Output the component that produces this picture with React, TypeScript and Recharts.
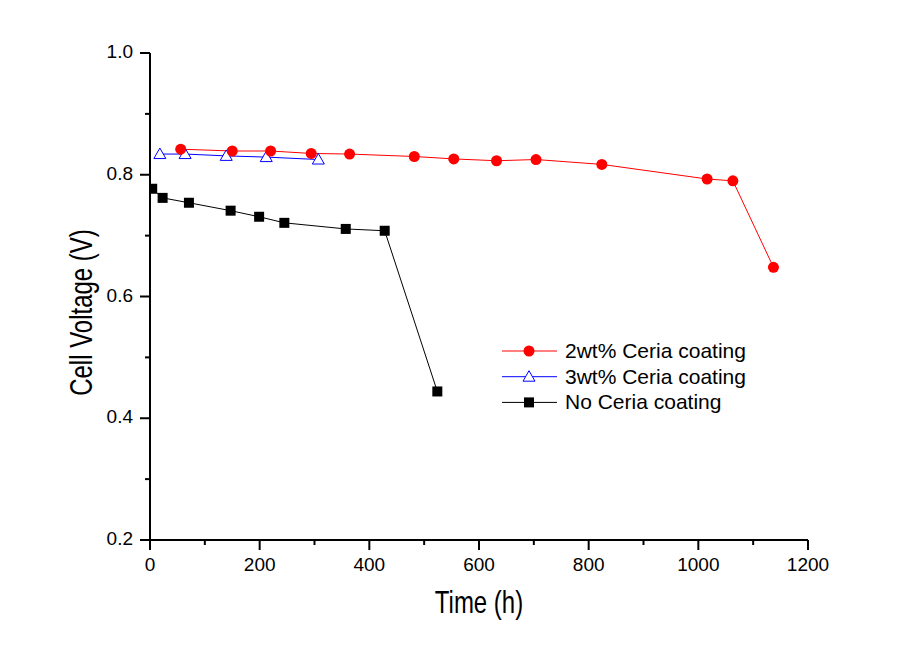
import React from "react";
import { Legend, Line, LineChart, XAxis, YAxis } from "recharts";

const timeTicks = [0, 100, 200, 300, 400, 500, 600, 700, 800, 900, 1000, 1100, 1200];
const voltageTicks = [0.2, 0.3, 0.4, 0.5, 0.6, 0.7, 0.8, 0.9, 1.0];

const ceria2Time = [56, 150, 220, 294, 364, 482, 554, 632, 704, 824, 1016, 1063, 1137];
const ceria2Voltage = [0.842, 0.839, 0.839, 0.835, 0.834, 0.83, 0.826, 0.823, 0.825, 0.817, 0.793, 0.79, 0.648];

const ceria3Time = [18, 64, 139, 212, 307];
const ceria3Voltage = [0.834, 0.834, 0.831, 0.829, 0.825];

const noCeriaTime = [4, 23, 71, 147, 199, 245, 357, 428, 524];
const noCeriaVoltage = [0.777, 0.762, 0.754, 0.741, 0.731, 0.721, 0.711, 0.708, 0.444];

const seriesNames = ["2wt% Ceria coating", "3wt% Ceria coating", "No Ceria coating"];

const FONT = '"Liberation Sans", Arial, sans-serif';

const toPoints = (times: number[], volts: number[]) =>
  times.map((t, i) => ({ t, v: volts[i] }));

const ceria2Data = toPoints(ceria2Time, ceria2Voltage);
const ceria3Data = toPoints(ceria3Time, ceria3Voltage);
const noCeriaData = toPoints(noCeriaTime, noCeriaVoltage);

type MarkerKind = "circle" | "triangle" | "square";

function Marker({ kind, cx, cy }: { kind: MarkerKind; cx: number; cy: number }) {
  if (kind === "circle") {
    return <circle cx={cx} cy={cy} r={5.5} fill="#ff0000" stroke="none" />;
  }
  if (kind === "triangle") {
    return (
      <polygon
        points={`${cx},${cy - 6} ${cx - 6},${cy + 4.5} ${cx + 6},${cy + 4.5}`}
        fill="#fff"
        stroke="#0000ff"
        strokeWidth={1}
      />
    );
  }
  return <rect x={cx - 5} y={cy - 5} width={10} height={10} fill="#000" />;
}

const makeDot = (kind: MarkerKind) => (props: any) => {
  const { cx, cy, index } = props;
  if (cx == null || cy == null) return <g key={`e-${index}`} />;
  return (
    <g key={`${kind}-${index}`}>
      <Marker kind={kind} cx={cx} cy={cy} />
    </g>
  );
};

function XTick(props: any) {
  const { x, y, payload } = props;
  const major = payload.value % 200 === 0;
  return (
    <g>
      <line x1={x} y1={y} x2={x} y2={y + (major ? 10 : 5)} stroke="#000" strokeWidth={2} />
      {major && (
        <text x={x} y={y + 31} textAnchor="middle" fontFamily={FONT} fontSize={19} fill="#000">
          {payload.value}
        </text>
      )}
    </g>
  );
}

function YTick(props: any) {
  const { x, y, payload } = props;
  const major = Math.round(payload.value * 10) % 2 === 0;
  return (
    <g>
      <line x1={x} y1={y} x2={x - (major ? 10 : 5)} y2={y} stroke="#000" strokeWidth={2} />
      {major && (
        <text x={x - 17} y={y + 5} textAnchor="end" fontFamily={FONT} fontSize={19} fill="#000">
          {payload.value.toFixed(1)}
        </text>
      )}
    </g>
  );
}

function XTitle(props: any) {
  const vb = props.viewBox;
  return (
    <text
      transform={`translate(${vb.x + vb.width / 2}, ${vb.y + 73}) scale(1, 1.33)`}
      textAnchor="middle"
      fontFamily={FONT}
      fontSize={24}
      fill="#000"
    >
      Time (h)
    </text>
  );
}

function YTitle(props: any) {
  const vb = props.viewBox;
  return (
    <text
      transform={`translate(${vb.x + 92}, ${vb.y + vb.height / 2 + 16}) rotate(-90) scale(1, 1.33)`}
      textAnchor="middle"
      fontFamily={FONT}
      fontSize={24}
      fill="#000"
    >
      Cell Voltage (V)
    </text>
  );
}

const legendKinds: MarkerKind[] = ["circle", "triangle", "square"];
const legendColors = ["#ff0000", "#0000ff", "#000000"];

function LegendBox() {
  return (
    <svg width={260} height={80} style={{ display: "block" }}>
      {seriesNames.map((name, i) => {
        const cy = 14 + i * 25.7;
        return (
          <g key={name}>
            <line x1={2} y1={cy} x2={57} y2={cy} stroke={legendColors[i]} strokeWidth={1} />
            <Marker kind={legendKinds[i]} cx={29} cy={cy} />
            <text x={65} y={cy + 7} fontFamily={FONT} fontSize={21} fill="#000">
              {name}
            </text>
          </g>
        );
      })}
    </svg>
  );
}

export default function App() {
  return (
    <div style={{ position: "absolute", left: 0, top: 0, width: 912, height: 670, background: "#fff" }}>
      <LineChart width={912} height={670} margin={{ top: 53, right: 104, bottom: 0, left: 0 }}>
        <XAxis
          type="number"
          dataKey="t"
          domain={[0, 1200]}
          ticks={timeTicks}
          interval={0}
          height={130}
          tickSize={0}
          tickMargin={0}
          tickLine={false}
          tick={<XTick />}
          axisLine={{ stroke: "#000", strokeWidth: 2 }}
          allowDataOverflow
          label={{ content: <XTitle /> } as any}
        />
        <XAxis
          xAxisId="top"
          orientation="top"
          type="number"
          domain={[0, 1200]}
          height={0}
          tick={false}
          tickLine={false}
          axisLine={{ stroke: "#000", strokeWidth: 2 }}
        />
        <YAxis
          type="number"
          dataKey="v"
          domain={[0.2, 1.0]}
          ticks={voltageTicks}
          interval={0}
          width={150}
          tickSize={0}
          tickMargin={0}
          tickLine={false}
          tick={<YTick />}
          axisLine={{ stroke: "#000", strokeWidth: 2 }}
          allowDataOverflow
          label={{ content: <YTitle /> } as any}
        />
        <YAxis
          yAxisId="right"
          orientation="right"
          type="number"
          domain={[0.2, 1.0]}
          width={0}
          tick={false}
          tickLine={false}
          axisLine={{ stroke: "#000", strokeWidth: 2 }}
        />
        <Legend
          layout="vertical"
          align="center"
          verticalAlign="middle"
          content={() => <LegendBox />}
          wrapperStyle={{ left: 500, top: 337, width: 260, height: 80 }}
        />
        <Line
          name={seriesNames[2]}
          data={noCeriaData}
          dataKey="v"
          stroke="#000"
          strokeWidth={1}
          dot={makeDot("square")}
          activeDot={false}
          isAnimationActive={false}
        />
        <Line
          name={seriesNames[1]}
          data={ceria3Data}
          dataKey="v"
          stroke="#0000ff"
          strokeWidth={1}
          dot={makeDot("triangle")}
          activeDot={false}
          isAnimationActive={false}
        />
        <Line
          name={seriesNames[0]}
          data={ceria2Data}
          dataKey="v"
          stroke="#ff0000"
          strokeWidth={1}
          dot={makeDot("circle")}
          activeDot={false}
          isAnimationActive={false}
        />
      </LineChart>
    </div>
  );
}
